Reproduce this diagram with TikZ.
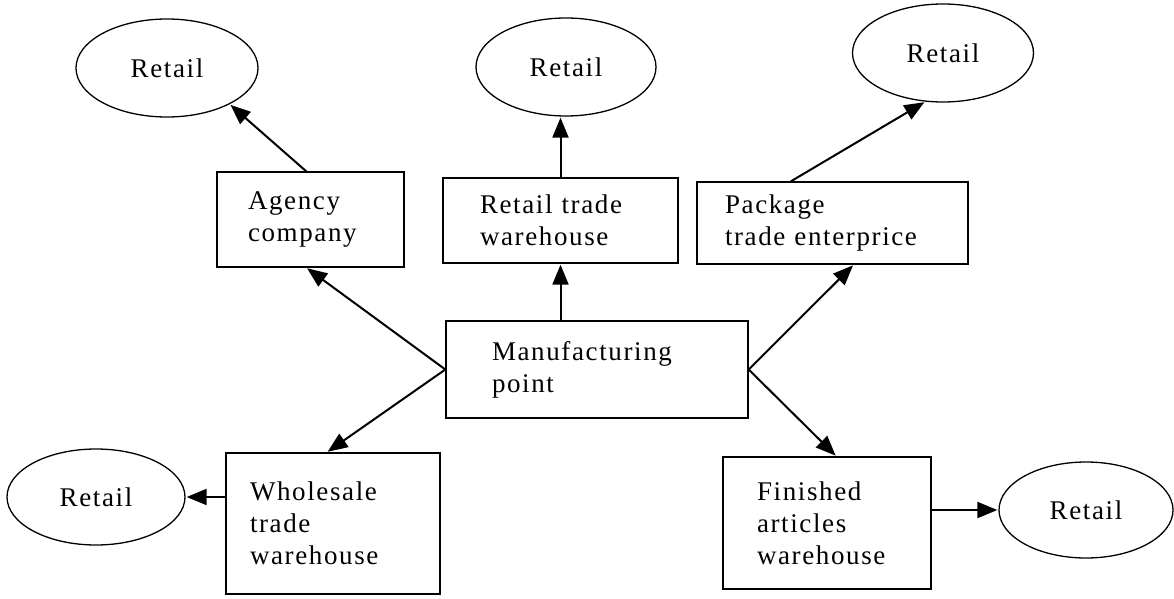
\documentclass[tikz,border=0pt]{standalone}
\usepackage{fontspec}
\setmainfont{Liberation Serif}[LetterSpace=6.0]
\usepackage{tikz}
\usetikzlibrary{arrows.meta,shapes.geometric,positioning}

\begin{document}
\begin{tikzpicture}[->,>={Triangle[length=20pt,width=16pt]},shorten >=1pt,x=1pt,y=-1pt,line width=2pt,
            box/.style={draw,line width=1.3pt,align=left,inner ysep=0pt,font=\fontsize{27}{32}\selectfont},
            retail/.style={ellipse,draw,line width=1.3pt,inner sep=0pt,font=\fontsize{27}{32}\selectfont}]
            \useasboundingbox (0,0) rectangle (1174,599);

            \node   [box]   [minimum height=97,inner xsep=46,text width=210]    (0) at (597,369.5)  {Manufacturing\\point};
            \node   [box]   [minimum height=95,inner xsep=31,text width=125]    (1) at (310.5,219.5) {Agency\\company};
            \node   [box]   [minimum height=85,inner xsep=37,text width=161]    (2) at (560.5,220.5) {Retail trade\\warehouse};
            \node   [box]   [minimum height=82,inner xsep=28,text width=215]    (3) at (832.5,223)  {Package\\trade enterprice};
            \node   [box]   [minimum height=141,inner xsep=24,text width=166]   (4) at (333,523.5)  {Wholesale\\trade\\warehouse};
            \node   [box]   [minimum height=132,inner xsep=34,text width=140]   (5) at (827,523)    {Finished\\articles\\warehouse};

            \node   [retail]    [minimum width=182,minimum height=98]   (r1) at (167,68)    {Retail};
            \node   [retail]    [minimum width=180,minimum height=98]   (r2) at (566,67)    {Retail};
            \node   [retail]    [minimum width=181,minimum height=98]   (r3) at (943,53)    {Retail};
            \node   [retail]    [minimum width=178,minimum height=96]   (r4) at (96,497)    {Retail};
            \node   [retail]    [minimum width=174,minimum height=96]   (r5) at (1086,510)  {Retail};

            \path   (0.west) edge (1.-95);
            \path   (0.north -| 2.south) edge (2.south);
            \path   (0.east) edge (3.-63);
            \path   (0.west) edge (4.95);
            \path   (0.east) edge (5.82);

            \path   (1.95) edge (r1.-30);
            \path   (2.north) edge (2.north |- r2.south);
            \path   (3.135) edge (r3.-110);
            \path   (4.west |- r4.east) edge (r4.east);
            \path   (5.east |- r5.west) edge (r5.west);
        \end{tikzpicture}
\end{document}
